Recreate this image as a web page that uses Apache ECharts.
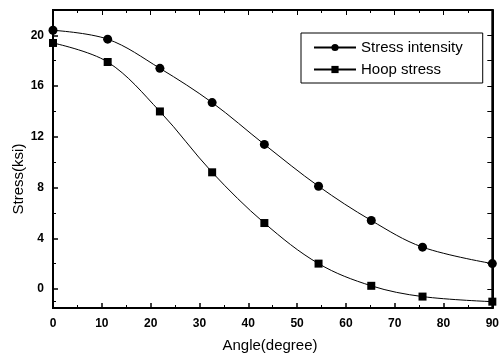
<!DOCTYPE html>
<html>
<head>
<meta charset="utf-8">
<script src="https://cdn.jsdelivr.net/npm/echarts@6/dist/echarts.min.js"></script>
<style>
  html, body { margin: 0; padding: 0; background: #fff; }
  #chart { width: 502px; height: 358px; }
</style>
</head>
<body>
<div id="chart"></div>
<script>
// angles (degree)
var angles = [0, 11.2, 21.9, 32.6, 43.3, 54.4, 65.2, 75.7, 90]
var stressIntensity = [20.4, 19.7, 17.4, 14.7, 11.4, 8.1, 5.4, 3.3, 2.0]
var hoopStress = [19.4, 17.9, 14.0, 9.2, 5.2, 2.0, 0.25, -0.6, -1.0]
var yLabels = [0, 4, 8, 12, 16, 20]
var yMinor = [-1, 2, 6, 10, 14, 18, 22]

function pairs(ys) {
  return angles.map(function (a, i) { return [a, ys[i]] })
}

var font = 'Liberation Sans'
var chart = echarts.init(document.getElementById('chart'))
var axisLine = { show: true, onZero: false, lineStyle: { color: '#000', width: 2 } }

chart.setOption({
  animation: false,
  grid: { left: 53, right: 9, top: 10, bottom: 50, show: true, borderColor: '#000', borderWidth: 2 },
  graphic: [{
    type: 'text',
    x: 11,
    y: 179,
    rotation: Math.PI / 2,
    style: { text: 'Stress(ksi)', font: '15px ' + font, fill: '#000', align: 'center', verticalAlign: 'top' }
  }, {
    type: 'text',
    x: 270,
    y: 338,
    style: { text: 'Angle(degree)', font: '15px ' + font, fill: '#000', align: 'center', verticalAlign: 'top' }
  }],
  legend: {
    orient: 'vertical',
    left: 301,
    top: 33,
    width: 178,
    padding: [7, 20, 6, 12],
    itemGap: 7,
    itemWidth: 42,
    itemHeight: 9,
    borderColor: '#000',
    borderWidth: 1,
    textStyle: { fontFamily: font, fontSize: 15, color: '#000' },
    data: ['Stress intensity', 'Hoop stress']
  },
  xAxis: [{
    type: 'value',
    min: 0,
    max: 90,
    interval: 10,
    axisLine: axisLine,
    axisTick: { inside: true, length: 5, lineStyle: { color: '#000', width: 1.5 } },
    minorTick: { show: true, splitNumber: 2, length: 3, lineStyle: { color: '#000' } },
    axisLabel: { fontFamily: font, fontSize: 12, fontWeight: 'bold', color: '#000', margin: 10 },
    splitLine: { show: false }
  }, {
    type: 'value',
    position: 'top',
    min: 0,
    max: 90,
    interval: 10,
    axisLine: axisLine,
    axisTick: { show: true, inside: true, length: 5, lineStyle: { color: '#000' } },
    minorTick: { show: true, splitNumber: 2, length: 3, lineStyle: { color: '#000' } },
    axisLabel: { show: false },
    splitLine: { show: false }
  }],
  yAxis: [{
    type: 'value',
    min: -1.5,
    max: 22,
    axisLine: axisLine,
    axisTick: { inside: true, length: 5, customValues: yLabels, lineStyle: { color: '#000', width: 1.5 } },
    axisLabel: { customValues: yLabels, fontFamily: font, fontSize: 12, fontWeight: 'bold', color: '#000', margin: 9 },
    splitLine: { show: false }
  }, {
    type: 'value',
    position: 'left',
    min: -1.5,
    max: 22,
    axisLine: { show: false },
    axisTick: { show: true, inside: true, length: 3, customValues: yMinor, lineStyle: { color: '#000' } },
    axisLabel: { show: false },
    splitLine: { show: false }
  }, {
    type: 'value',
    position: 'right',
    min: -1.5,
    max: 22,
    axisLine: axisLine,
    axisTick: { show: true, inside: true, length: 5, customValues: yLabels.concat(yMinor), lineStyle: { color: '#000' } },
    axisLabel: { show: false },
    splitLine: { show: false }
  }],
  series: [{
    name: 'Stress intensity',
    type: 'line',
    data: pairs(stressIntensity),
    smooth: 0.35,
    symbol: 'circle',
    symbolSize: 9,
    itemStyle: { color: '#000' },
    lineStyle: { color: '#000', width: 1 }
  }, {
    name: 'Hoop stress',
    type: 'line',
    data: pairs(hoopStress),
    smooth: 0.35,
    symbol: 'rect',
    symbolSize: 8,
    itemStyle: { color: '#000' },
    lineStyle: { color: '#000', width: 1 }
  }]
})
</script>
</body>
</html>
